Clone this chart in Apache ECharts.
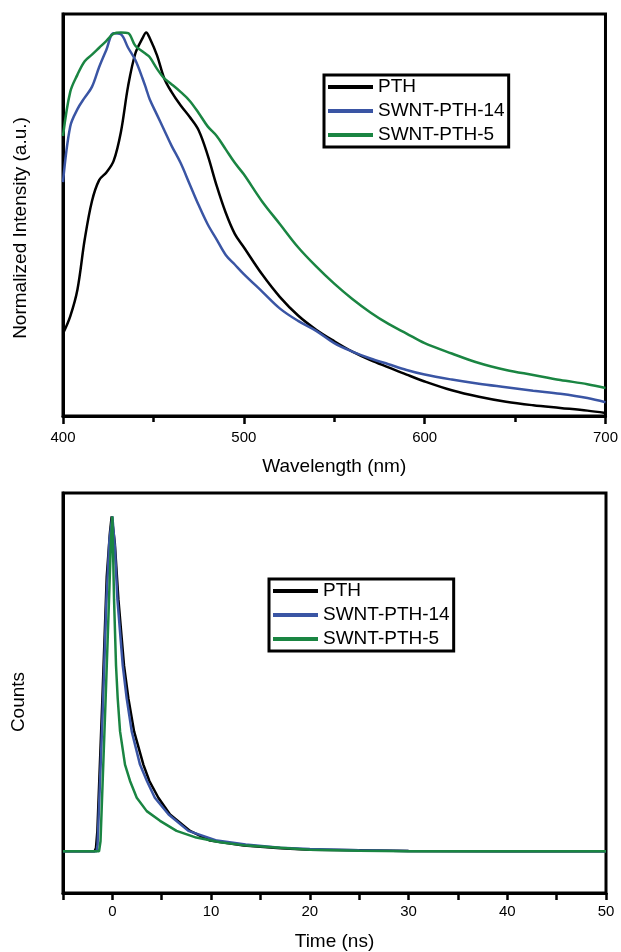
<!DOCTYPE html>
<html>
<head>
<meta charset="utf-8">
<script src="https://cdn.jsdelivr.net/npm/echarts@6/dist/echarts.min.js"></script>
<style>
  html, body { margin: 0; padding: 0; background: #fff; }
  #chart { width: 621px; height: 952px; }
</style>
</head>
<body>
<div id="chart"></div>
<script>
// top panel: PL spectra
const wavelength = [400, 404, 408, 412, 416, 420, 424, 428, 432, 436, 440, 444, 446, 448, 452, 456, 460, 465, 470, 475, 480, 485, 490, 495, 500, 510, 520, 530, 540, 550, 560, 570, 580, 590, 600, 615, 630, 645, 660, 675, 690, 700];
const pthPL = [0.215, 0.26, 0.33, 0.46, 0.56, 0.615, 0.635, 0.665, 0.74, 0.86, 0.945, 0.985, 1.0, 0.985, 0.94, 0.88, 0.845, 0.81, 0.78, 0.745, 0.68, 0.6, 0.53, 0.475, 0.44, 0.37, 0.31, 0.262, 0.225, 0.195, 0.168, 0.146, 0.127, 0.108, 0.09, 0.067, 0.05, 0.037, 0.028, 0.021, 0.014, 0.008];
const swnt14PL = [0.61, 0.755, 0.8, 0.83, 0.858, 0.91, 0.955, 0.998, 0.995, 0.96, 0.928, 0.88, 0.853, 0.825, 0.785, 0.745, 0.705, 0.66, 0.605, 0.55, 0.5, 0.46, 0.42, 0.395, 0.37, 0.325, 0.28, 0.248, 0.222, 0.19, 0.168, 0.15, 0.135, 0.12, 0.108, 0.095, 0.084, 0.075, 0.066, 0.058, 0.047, 0.036];
const swnt5PL = [0.73, 0.845, 0.89, 0.925, 0.942, 0.96, 0.978, 0.997, 1.0, 0.998, 0.965, 0.95, 0.943, 0.935, 0.905, 0.88, 0.865, 0.845, 0.822, 0.79, 0.755, 0.73, 0.695, 0.66, 0.63, 0.56, 0.5, 0.44, 0.39, 0.345, 0.305, 0.27, 0.24, 0.215, 0.19, 0.163, 0.138, 0.12, 0.107, 0.094, 0.083, 0.073];

// bottom panel: decay traces
const pthTime = [-5, -1.8, -1.66, -1.52, -1.01, -0.57, -0.25, -0.07, 0.25, 0.61, 1.18, 1.62, 2.2, 3.14, 3.75, 4.66, 5.84, 7.87, 9.9, 13.3, 17, 20, 25, 30, 40, 50];
const pthCounts = [0, 0, 0.01, 0.06, 0.457, 0.82, 0.95, 1.0, 0.92, 0.753, 0.555, 0.457, 0.358, 0.259, 0.21, 0.16, 0.11, 0.061, 0.032, 0.017, 0.009, 0.005, 0.003, 0.001, 0, 0];
const swnt14Time = [-5, -1.6, -1.5, -1.0, -0.6, -0.3, 0, 0.25, 0.51, 1.05, 1.45, 1.96, 2.8, 3.5, 4.3, 5.7, 7.7, 10.6, 13.5, 17, 20, 25, 30, 40, 50];
const swnt14Counts = [0, 0, 0.02, 0.4, 0.75, 0.93, 1.0, 0.91, 0.753, 0.555, 0.457, 0.358, 0.259, 0.21, 0.16, 0.11, 0.061, 0.032, 0.02, 0.011, 0.007, 0.003, 0.001, 0, 0];
const swnt5Time = [-5, -1.35, -1.2, -0.68, -0.34, -0.15, 0, 0.17, 0.37, 0.54, 0.78, 1.28, 1.79, 2.47, 3.48, 4.83, 6.5, 8.5, 10.9, 13.6, 20, 25, 30, 40, 50];
const swnt5Counts = [0, 0, 0.03, 0.457, 0.75, 0.92, 1.0, 0.753, 0.555, 0.457, 0.358, 0.259, 0.21, 0.16, 0.12, 0.091, 0.061, 0.041, 0.027, 0.017, 0.005, 0.002, 0, 0, 0];

const names = ['PTH', 'SWNT-PTH-14', 'SWNT-PTH-5'];
const colors = ['#000000', '#3a55a4', '#1a8542'];
const font = 'Liberation Sans, Arial, sans-serif';

function pairs(xs, ys) {
  return xs.map((x, i) => [x, ys[i]]);
}

function makeLegend(left, top) {
  return {
    data: names,
    orient: 'vertical',
    left: left,
    top: top,
    icon: 'rect',
    itemWidth: 45,
    itemHeight: 4,
    itemGap: 4,
    padding: [2, 4, 2, 4],
    borderColor: '#000',
    borderWidth: 3,
    selectedMode: false,
    textStyle: { fontSize: 19, color: '#000', fontFamily: font, lineHeight: 20 }
  };
}

function makeXAxis(idx, min, max, interval, name, labelMargin, nameGap, minor) {
  return {
    gridIndex: idx,
    type: 'value',
    min: min,
    max: max,
    interval: interval,
    name: name,
    nameLocation: 'middle',
    nameGap: nameGap,
    nameTextStyle: { fontSize: 19, color: '#000', fontFamily: font },
    axisLine: { onZero: false, lineStyle: { color: '#000', width: 3 } },
    axisTick: { length: minor ? 8 : 7, lineStyle: { color: '#000', width: 2.5 } },
    minorTick: { show: minor, splitNumber: 2, length: 6, lineStyle: { color: '#000', width: 2.5 } },
    splitLine: { show: false },
    axisLabel: {
      fontSize: 15, color: '#000', fontFamily: font, margin: labelMargin,
      formatter: v => (minor || v % 10 === 0) ? String(v) : ''
    }
  };
}

// shift is how far the rotated title moves down, in px
function makeYAxis(idx, min, max, name, nameGap, shift) {
  return {
    gridIndex: idx,
    type: 'value',
    min: min,
    max: max,
    name: name,
    nameLocation: 'middle',
    nameGap: nameGap,
    nameTextStyle: { fontSize: 19, color: '#000', fontFamily: font, padding: [0, shift * 2, 0, 0] },
    axisLine: { show: true, onZero: false, lineStyle: { color: '#000', width: 3 } },
    axisTick: { show: false },
    axisLabel: { show: false },
    splitLine: { show: false }
  };
}

function makeLine(name, color, data, idx, smooth) {
  return {
    name: name,
    type: 'line',
    xAxisIndex: idx,
    yAxisIndex: idx,
    data: data,
    showSymbol: false,
    smooth: smooth,
    clip: true,
    color: color,
    lineStyle: { color: color, width: 2.5 },
    animation: false
  };
}

const chart = echarts.init(document.getElementById('chart'));
chart.setOption({
  animation: false,
  backgroundColor: '#fff',
  grid: [
    { left: 63, width: 543, top: 14, height: 402, show: true, borderColor: '#000', borderWidth: 3 },
    { left: 63, width: 543, top: 493, height: 403, show: true, borderColor: '#000', borderWidth: 3 }
  ],
  legend: [makeLegend(324, 75), makeLegend(269, 579)],
  xAxis: [
    makeXAxis(0, 400, 700, 100, 'Wavelength (nm)', 14, 41, true),
    makeXAxis(1, -5, 50, 5, 'Time (ns)', 11, 39, false)
  ],
  yAxis: [
    makeYAxis(0, 0, 1.048, 'Normalized Intensity (a.u.)', 33, 13),
    makeYAxis(1, -0.1245, 1.07, 'Counts', 35, 9)
  ],
  series: [
    makeLine(names[0], colors[0], pairs(wavelength, pthPL), 0, 0.35),
    makeLine(names[1], colors[1], pairs(wavelength, swnt14PL), 0, 0.35),
    makeLine(names[2], colors[2], pairs(wavelength, swnt5PL), 0, 0.35),
    makeLine(names[0], colors[0], pairs(pthTime, pthCounts), 1, false),
    makeLine(names[1], colors[1], pairs(swnt14Time, swnt14Counts), 1, false),
    makeLine(names[2], colors[2], pairs(swnt5Time, swnt5Counts), 1, false)
  ]
});
</script>
</body>
</html>
